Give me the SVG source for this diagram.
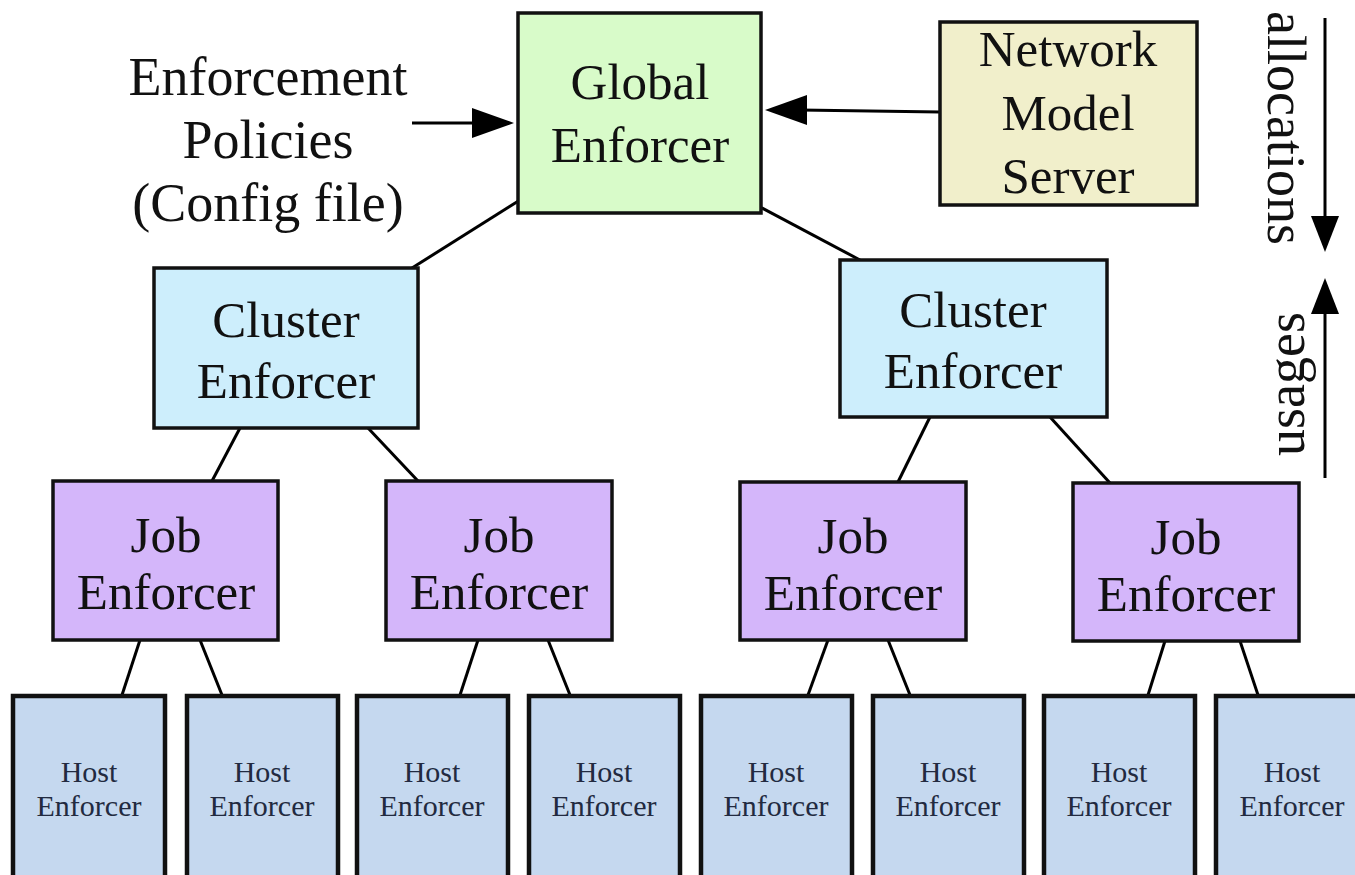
<svg xmlns="http://www.w3.org/2000/svg" width="1355" height="875" viewBox="0 0 1355 875" font-family="'Liberation Serif', Tinos, 'Times New Roman', Times, serif">
  <defs>
    <style>
      text { fill: #111; text-anchor: middle; }
      .box { stroke: #111; stroke-width: 3.5; }
      .host { fill: #c5d8ef; stroke: #111; stroke-width: 4.5; }
      .global { fill: #d8fbc9; }
      .nms { fill: #f1efcb; }
      .cluster { fill: #cdeefc; }
      .job { fill: #d4b6fa; }
      .big { font-size: 51px; }
      .label { font-size: 54px; }
      .small { font-size: 30px; fill: #222a40; }
      .conn { stroke: #000; stroke-width: 3; fill: none; }
      .head { fill: #000; }
    </style>
  </defs>
  <rect width="1355" height="875" fill="#fff"/>

  <!-- connectors -->
  <g id="connectors">
    <line class="conn" x1="412" y1="123" x2="480" y2="123"/>
    <path class="head" d="M472,108 L514,123 L472,138 z"/>
    <line class="conn" x1="940" y1="112" x2="800" y2="110"/>
    <path class="head" d="M807,95 L765,110 L807,125 z"/>
    <line class="conn" x1="520" y1="200" x2="412" y2="268"/>
    <line class="conn" x1="760" y1="207" x2="860" y2="260"/>
    <line class="conn" x1="240" y1="428" x2="212" y2="481"/>
    <line class="conn" x1="368" y1="428" x2="418" y2="481"/>
    <line class="conn" x1="930" y1="417" x2="898" y2="482"/>
    <line class="conn" x1="1050" y1="417" x2="1110" y2="483"/>
    <line class="conn" x1="140" y1="640" x2="122" y2="695"/>
    <line class="conn" x1="200" y1="640" x2="222" y2="695"/>
    <line class="conn" x1="478" y1="640" x2="460" y2="695"/>
    <line class="conn" x1="548" y1="640" x2="570" y2="695"/>
    <line class="conn" x1="828" y1="640" x2="808" y2="695"/>
    <line class="conn" x1="888" y1="640" x2="910" y2="695"/>
    <line class="conn" x1="1165" y1="641" x2="1148" y2="695"/>
    <line class="conn" x1="1240" y1="641" x2="1258" y2="695"/>
    <!-- allocations / usages arrows -->
    <line class="conn" x1="1325" y1="18" x2="1325" y2="220"/>
    <path class="head" d="M1311,216 L1325,252 L1339,216 z"/>
    <line class="conn" x1="1325" y1="478" x2="1325" y2="310"/>
    <path class="head" d="M1311,314 L1325,278 L1339,314 z"/>
  </g>

  <!-- free labels -->
  <g id="policies">
    <text class="label" x="268" y="95">Enforcement</text>
    <text class="label" x="268" y="158">Policies</text>
    <text class="label" x="268" y="221">(Config file)</text>
  </g>
  <g id="allocations-label">
    <text class="label" transform="translate(1268,128) rotate(90)">allocations</text>
  </g>
  <g id="usages-label">
    <text class="label" transform="translate(1304,384) rotate(-90)">usages</text>
  </g>

  <g id="global">
    <rect class="box global" x="518" y="13" width="243" height="200"/>
    <text class="big" x="640" y="99">Global</text>
    <text class="big" x="640" y="162">Enforcer</text>
  </g>
  <g id="network-model-server">
    <rect class="box nms" x="940" y="22" width="257" height="183"/>
    <text class="big" x="1068" y="66">Network</text>
    <text class="big" x="1068" y="130">Model</text>
    <text class="big" x="1068" y="193">Server</text>
  </g>

  <g id="cluster-1">
    <rect class="box cluster" x="154" y="268" width="264" height="160"/>
    <text class="big" x="286" y="337">Cluster</text>
    <text class="big" x="286" y="398">Enforcer</text>
  </g>
  <g id="cluster-2">
    <rect class="box cluster" x="840" y="260" width="267" height="157"/>
    <text class="big" x="973" y="327">Cluster</text>
    <text class="big" x="973" y="388">Enforcer</text>
  </g>

  <g id="job-1">
    <rect class="box job" x="53" y="481" width="225" height="159"/>
    <text class="big" x="166" y="552">Job</text>
    <text class="big" x="166" y="609">Enforcer</text>
  </g>
  <g id="job-2">
    <rect class="box job" x="386" y="481" width="226" height="159"/>
    <text class="big" x="499" y="552">Job</text>
    <text class="big" x="499" y="609">Enforcer</text>
  </g>
  <g id="job-3">
    <rect class="box job" x="740" y="482" width="226" height="158"/>
    <text class="big" x="853" y="553">Job</text>
    <text class="big" x="853" y="610">Enforcer</text>
  </g>
  <g id="job-4">
    <rect class="box job" x="1073" y="483" width="226" height="158"/>
    <text class="big" x="1186" y="554">Job</text>
    <text class="big" x="1186" y="611">Enforcer</text>
  </g>

  <g id="host-1"><rect class="host" x="13" y="696" width="152" height="200"/><text class="small" x="89" y="782">Host</text><text class="small" x="89" y="816">Enforcer</text></g>
  <g id="host-2"><rect class="host" x="187" y="696" width="151" height="200"/><text class="small" x="262" y="782">Host</text><text class="small" x="262" y="816">Enforcer</text></g>
  <g id="host-3"><rect class="host" x="357" y="696" width="151" height="200"/><text class="small" x="432" y="782">Host</text><text class="small" x="432" y="816">Enforcer</text></g>
  <g id="host-4"><rect class="host" x="529" y="696" width="151" height="200"/><text class="small" x="604" y="782">Host</text><text class="small" x="604" y="816">Enforcer</text></g>
  <g id="host-5"><rect class="host" x="701" y="696" width="151" height="200"/><text class="small" x="776" y="782">Host</text><text class="small" x="776" y="816">Enforcer</text></g>
  <g id="host-6"><rect class="host" x="873" y="696" width="151" height="200"/><text class="small" x="948" y="782">Host</text><text class="small" x="948" y="816">Enforcer</text></g>
  <g id="host-7"><rect class="host" x="1044" y="696" width="151" height="200"/><text class="small" x="1119" y="782">Host</text><text class="small" x="1119" y="816">Enforcer</text></g>
  <g id="host-8"><rect class="host" x="1216" y="696" width="160" height="200"/><text class="small" x="1292" y="782">Host</text><text class="small" x="1292" y="816">Enforcer</text></g>
</svg>
